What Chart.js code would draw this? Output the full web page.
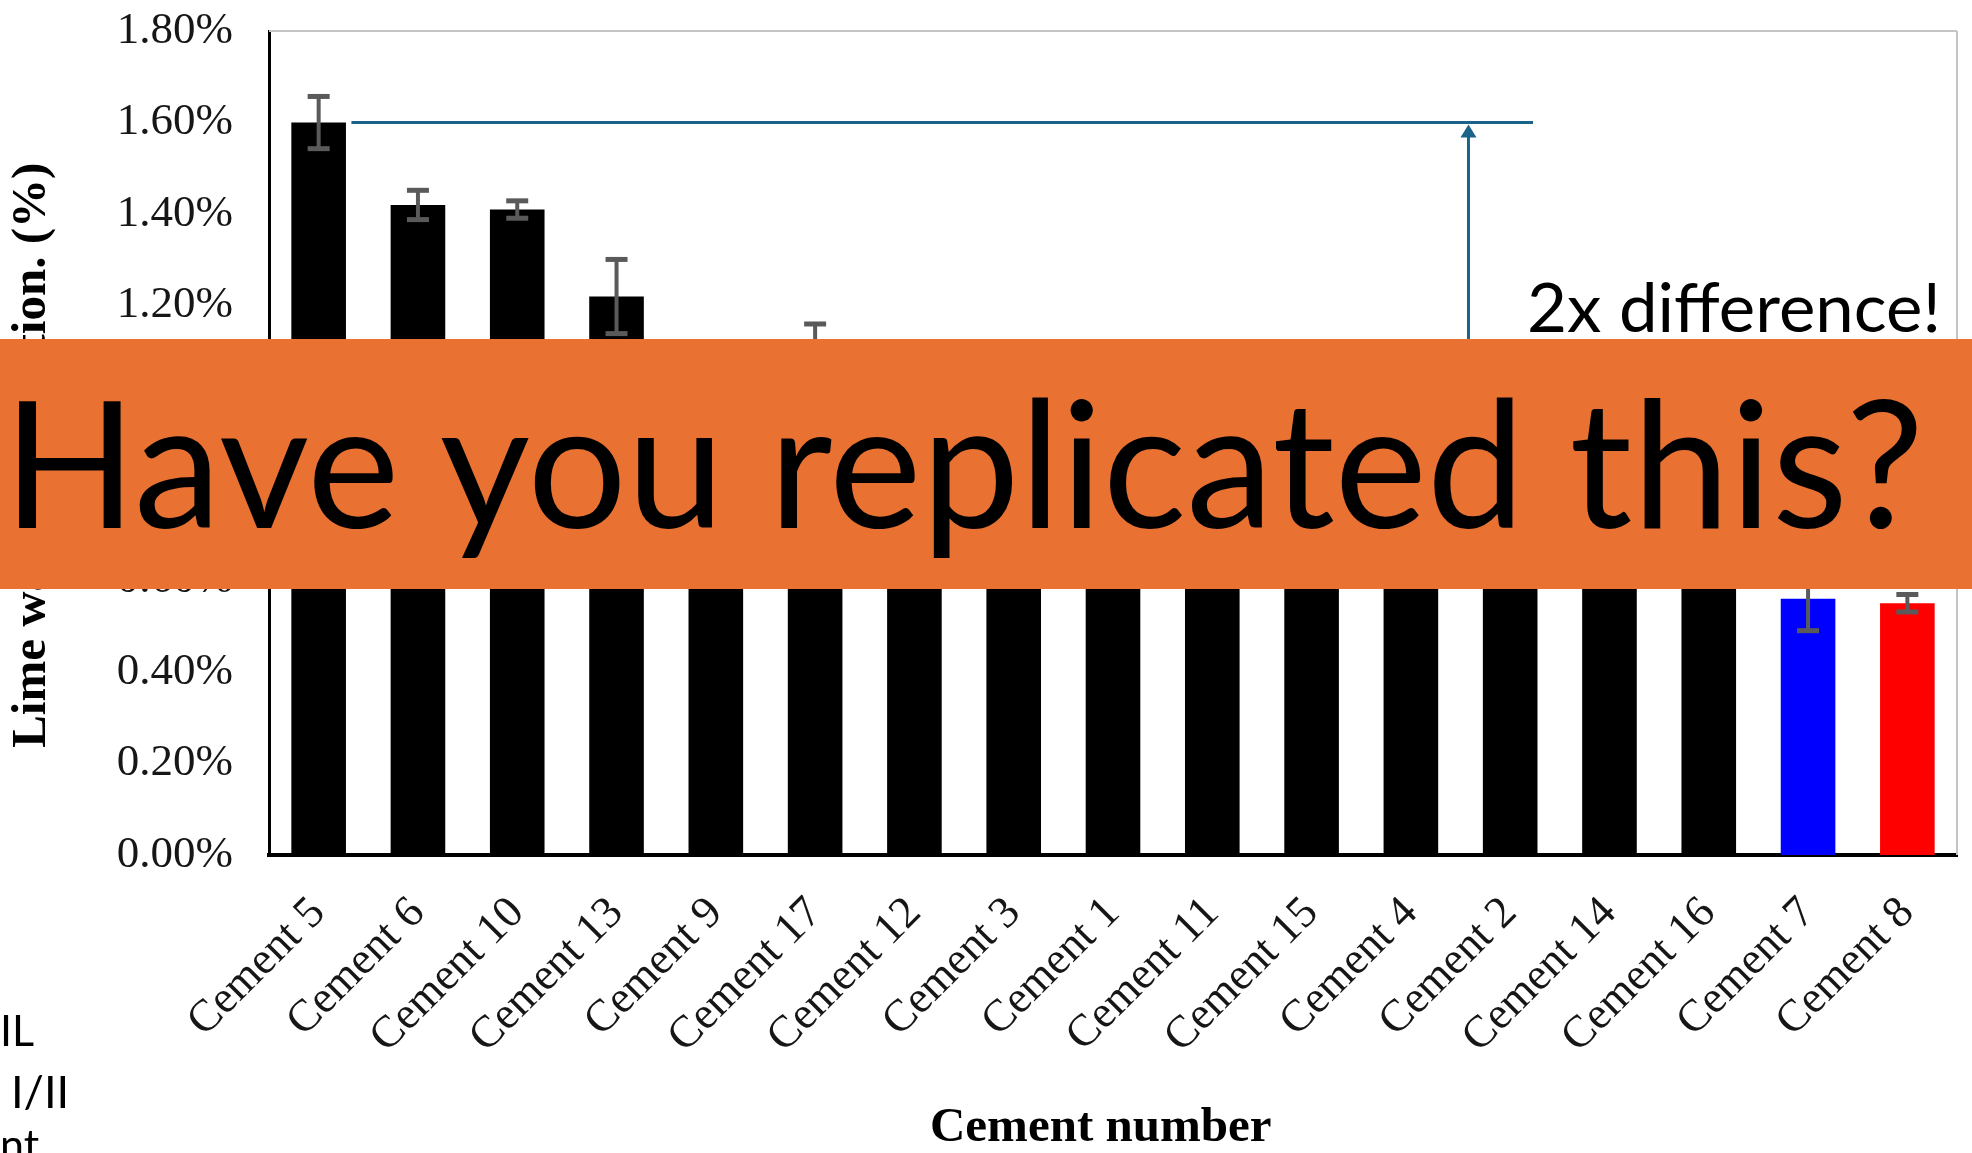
<!DOCTYPE html>
<html>
<head>
<meta charset="utf-8">
<script src="https://cdn.jsdelivr.net/npm/chart.js@4.4.1/dist/chart.umd.min.js"></script>
<style>
  html, body { margin: 0; padding: 0; background: #fff; }
  #wrap { position: relative; width: 1972px; height: 1153px; overflow: hidden; }
  #chart { position: absolute; left: 0; top: 0; }
  #banner { position: absolute; left: 0; top: 339px; width: 1972px; height: 250px; background: #E97132; }
  .note { position: absolute; font-family: Lato, "Open Sans", sans-serif; color: #000; white-space: nowrap; line-height: 1.2; transform-origin: 0 0; }
</style>
</head>
<body>
<div id="wrap">
  <canvas id="chart" width="1972" height="1153"></canvas>
  <div id="banner"></div>
  <div class="note" id="headline" style="left:3px; top:354px; font-size:176px;" data-fit="1921">Have you replicated this?</div>
  <div class="note" id="diff" style="left:1527px; top:265px; font-size:68px;" data-fit="414">2x difference!</div>
  <div class="note" style="left:0px; top:1004px; font-size:43px;">IL</div>
  <div class="note" style="left:11px; top:1064px; font-size:45px;">I/II</div>
  <div class="note" style="left:0px; top:1118px; font-size:43px;">nt</div>
</div>
<script>
// values (hidden bars estimated)
const cements = ['Cement 5', 'Cement 6', 'Cement 10', 'Cement 13', 'Cement 9', 'Cement 17', 'Cement 12',
  'Cement 3', 'Cement 1', 'Cement 11', 'Cement 15', 'Cement 4', 'Cement 2', 'Cement 14', 'Cement 16',
  'Cement 7', 'Cement 8'];
const absorption = [1.60, 1.42, 1.41, 1.22, 1.08, 1.07, 1.03, 0.99, 0.96, 0.92, 0.88, 0.83, 0.79, 0.74, 0.69, 0.56, 0.55];
const errors = [0.057, 0.032, 0.019, 0.081, 0.03, 0.09, 0.04, 0.04, 0.03, 0.05, 0.04, 0.03, 0.05, 0.04, 0.05, 0.07, 0.019];
const barColors = cements.map(c => c === 'Cement 7' ? '#0000FF' : c === 'Cement 8' ? '#FF0000' : '#000000');

// "2x difference" marker: horizontal line at top value, arrow up to it
const refLevel = 1.60;
const refLineFrom = 0.33, refLineTo = 12.23;   // category units
const arrowAt = 11.58, arrowFrom = 0.80;

const serif = '"Liberation Serif", "Times New Roman", serif';

function stroke(ctx, x1, y1, x2, y2) {
    ctx.beginPath(); ctx.moveTo(x1, y1); ctx.lineTo(x2, y2); ctx.stroke();
}

const frame = {
    id: 'frame',
    beforeDatasetsDraw(chart) {
        const { ctx, chartArea: a } = chart;
        ctx.save();
        ctx.strokeStyle = '#c4c4c4';
        ctx.lineWidth = 2;
        stroke(ctx, a.left, a.top, a.right, a.top);
        stroke(ctx, a.right, a.top, a.right, a.bottom);
        ctx.restore();
    }
};

const errorBars = {
    id: 'errorBars',
    afterDatasetsDraw(chart) {
        const { ctx, scales: { y } } = chart;
        const meta = chart.getDatasetMeta(0);
        ctx.save();
        ctx.strokeStyle = '#5a5a5a';
        meta.data.forEach((bar, i) => {
            const top = y.getPixelForValue(absorption[i] + errors[i]);
            const bot = y.getPixelForValue(absorption[i] - errors[i]);
            ctx.lineWidth = 4;
            stroke(ctx, bar.x, top, bar.x, bot);
            ctx.lineWidth = 5;
            stroke(ctx, bar.x - 11, top, bar.x + 11, top);
            stroke(ctx, bar.x - 11, bot, bar.x + 11, bot);
        });
        ctx.restore();
    }
};

const marker = {
    id: 'marker',
    afterDatasetsDraw(chart) {
        const { ctx, scales: { x, y } } = chart;
        const ly = y.getPixelForValue(refLevel);
        const ax = x.getPixelForValue(arrowAt);
        ctx.save();
        ctx.strokeStyle = '#1b6389';
        ctx.fillStyle = '#1b6389';
        ctx.lineWidth = 3;
        stroke(ctx, x.getPixelForValue(refLineFrom), ly, x.getPixelForValue(refLineTo), ly);
        stroke(ctx, ax, y.getPixelForValue(arrowFrom), ax, ly + 12);
        ctx.beginPath();
        ctx.moveTo(ax, ly + 2);
        ctx.lineTo(ax - 8, ly + 15);
        ctx.lineTo(ax + 8, ly + 15);
        ctx.closePath();
        ctx.fill();
        ctx.restore();
    }
};

new Chart(document.getElementById('chart'), {
    type: 'bar',
    data: {
        labels: cements,
        datasets: [{ data: absorption, backgroundColor: barColors, borderWidth: 0, barPercentage: 0.55, categoryPercentage: 1 }]
    },
    options: {
        responsive: false,
        animation: false,
        layout: { padding: { top: 31, right: 15, left: 0, bottom: 0 } },
        plugins: { legend: { display: false }, tooltip: { enabled: false } },
        scales: {
            x: {
                grid: { display: false, drawTicks: false },
                border: { color: '#000', width: 4 },
                ticks: { color: '#161616', font: { family: serif, size: 45 }, minRotation: 45, maxRotation: 45, autoSkip: false, padding: 32 },
                title: { display: true, text: 'Cement number\u2002', color: '#000', font: { family: serif, size: 49, weight: 'bold', lineHeight: 1 }, padding: { top: 0, bottom: 0 } },
                afterFit: s => { s.height = 298; s.paddingLeft = 0; s.paddingRight = 0; }
            },
            y: {
                min: 0, max: 1.8,
                grid: { display: false, drawTicks: false },
                border: { color: '#000', width: 3 },
                ticks: { stepSize: 0.2, color: '#161616', font: { family: serif, size: 45 }, padding: 36, callback: v => v.toFixed(2) + '%' },
                title: { display: true, text: 'Lime water absorption. (%)\u2002', color: '#000', font: { family: serif, size: 49, weight: 'bold' }, padding: { top: 3, bottom: 0 } },
                afterFit: s => { s.width = 269; s.paddingTop = 0; s.paddingBottom = 0; }
            }
        }
    },
    plugins: [frame, errorBars, marker]
});

// squeeze the slide texts to the widths they take in the picture
document.querySelectorAll('.note[data-fit]').forEach(el => {
    const w = el.getBoundingClientRect().width;
    el.style.transform = `scaleX(${parseFloat(el.dataset.fit) / w})`;
});
</script>
</body>
</html>
